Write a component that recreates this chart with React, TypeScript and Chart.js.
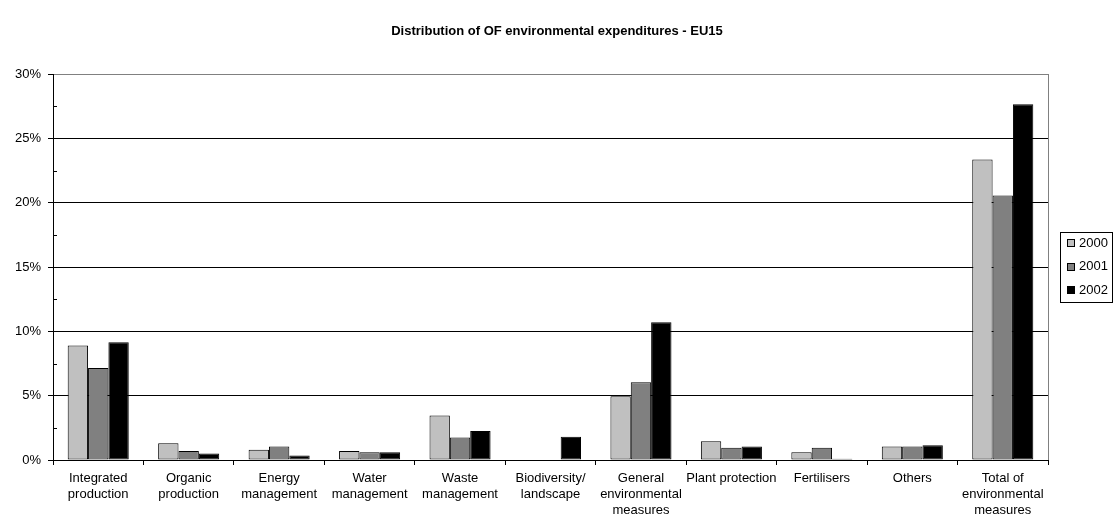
import React, { useEffect, useRef } from 'react';
import { Chart, registerables } from 'chart.js';
Chart.register(...registerables);

const chartTitle = 'Distribution of OF environmental expenditures - EU15';
const categories: string[][] = [
  ['Integrated', 'production'],
  ['Organic', 'production'],
  ['Energy', 'management'],
  ['Water', 'management'],
  ['Waste', 'management'],
  ['Biodiversity/', 'landscape'],
  ['General', 'environmental', 'measures'],
  ['Plant protection'],
  ['Fertilisers'],
  ['Others'],
  ['Total of', 'environmental', 'measures'],
];
const seriesLabels = ['2000', '2001', '2002'];
const series2000 = [8.9, 1.3, 0.8, 0.7, 3.45, 0, 4.95, 1.45, 0.6, 1.05, 23.35];
const series2001 = [7.15, 0.7, 1.05, 0.6, 1.75, 0, 6.05, 0.95, 0.95, 1.05, 20.55];
const series2002 = [9.15, 0.5, 0.35, 0.6, 2.25, 1.8, 10.7, 1.05, 0.1, 1.15, 27.65];
const seriesColors = ['#C0C0C0', '#808080', '#000000'];
const yMax = 30;
const yStep = 2.5;
const yLabelStep = 5;

const FONT = "'Liberation Sans', Arial, sans-serif";

const overlayPlugin = {
  id: 'overlay',
  afterDraw(chart: any) {
    const { ctx, chartArea } = chart;
    const ys = chart.scales.y;
    ctx.save();
    // title
    ctx.fillStyle = '#000';
    ctx.font = `bold 13px ${FONT}`;
    ctx.textAlign = 'center';
    ctx.textBaseline = 'middle';
    ctx.fillText(chartTitle, 557, 31);
    // right border
    ctx.strokeStyle = '#808080';
    ctx.lineWidth = 1;
    ctx.beginPath();
    ctx.moveTo(Math.round(chartArea.right) + 0.5, chartArea.top);
    ctx.lineTo(Math.round(chartArea.right) + 0.5, chartArea.bottom);
    ctx.stroke();
    // minor ticks inside
    ctx.strokeStyle = '#000';
    ctx.beginPath();
    for (let v = yStep; v < yMax; v += yLabelStep) {
      const y = Math.round(ys.getPixelForValue(v)) + 0.5;
      ctx.moveTo(chartArea.left, y);
      ctx.lineTo(chartArea.left + 4, y);
    }
    ctx.stroke();
    // legend
    const bx = 1060.5, by = 232.5, bw = 52, bh = 70;
    ctx.fillStyle = '#fff';
    ctx.fillRect(bx, by, bw, bh);
    ctx.strokeStyle = '#000';
    ctx.strokeRect(bx, by, bw, bh);
    ctx.font = `13px ${FONT}`;
    ctx.textAlign = 'left';
    ctx.textBaseline = 'middle';
    chart.data.datasets.forEach((ds: any, i: number) => {
      const cy = 243 + i * 23.5;
      ctx.fillStyle = ds.backgroundColor;
      ctx.fillRect(1067, Math.round(cy - 4), 7, 7);
      ctx.strokeStyle = '#000';
      ctx.strokeRect(1067.5, Math.round(cy - 4) + 0.5, 7, 7);
      ctx.fillStyle = '#000';
      ctx.fillText(ds.label, 1079, cy);
    });
    ctx.restore();
  },
};

export default function App() {
  const ref = useRef<HTMLCanvasElement | null>(null);
  useEffect(() => {
    if (!ref.current) return;
    const data = [series2000, series2001, series2002];
    const chart = new Chart(ref.current, {
      type: 'bar',
      data: {
        labels: categories,
        datasets: seriesLabels.map((l, i) => ({
          label: l,
          data: data[i],
          backgroundColor: seriesColors[i],
          borderColor: '#000',
          borderWidth: 1,
          borderSkipped: false,
          categoryPercentage: 0.675,
          barPercentage: 1,
        })),
      },
      options: {
        responsive: false,
        animation: false,
        layout: { padding: { left: 0, right: 66, top: 74, bottom: 0 } },
        plugins: { legend: { display: false }, title: { display: false }, tooltip: { enabled: false } },
        scales: {
          x: {
            afterFit: (s: any) => { s.height = 60; },
            grid: { offset: true, drawOnChartArea: false, drawTicks: true, tickLength: 5, color: '#000' },
            border: { display: true, color: '#000' },
            ticks: { color: '#000', font: { family: FONT, size: 13, lineHeight: 16 / 13 }, padding: 5, maxRotation: 0, autoSkip: false },
          },
          y: {
            min: 0,
            max: yMax,
            afterFit: (s: any) => { s.width = 53; },
            grid: {
              color: (c: any) => (c.tick && c.tick.value % yLabelStep === 0 ? (c.tick.value === yMax ? '#808080' : '#000') : 'rgba(0,0,0,0)'),
              tickColor: (c: any) => (c.tick && c.tick.value % yLabelStep === 0 ? '#000' : 'rgba(0,0,0,0)'),
              tickLength: 5,
            },
            border: { display: true, color: '#000' },
            ticks: {
              stepSize: yStep,
              color: '#000',
              padding: 7,
              font: { family: FONT, size: 13 },
              callback: (v: any) => (Number(v) % yLabelStep === 0 ? `${v}%` : ''),
            },
          },
        },
      },
      plugins: [overlayPlugin],
    });
    return () => chart.destroy();
  }, []);
  return (
    <div style={{ position: 'absolute', left: 0, top: 0, width: 1114, height: 520, background: '#fff' }}>
      <canvas ref={ref} width={1114} height={520} style={{ width: 1114, height: 520 }} />
    </div>
  );
}
